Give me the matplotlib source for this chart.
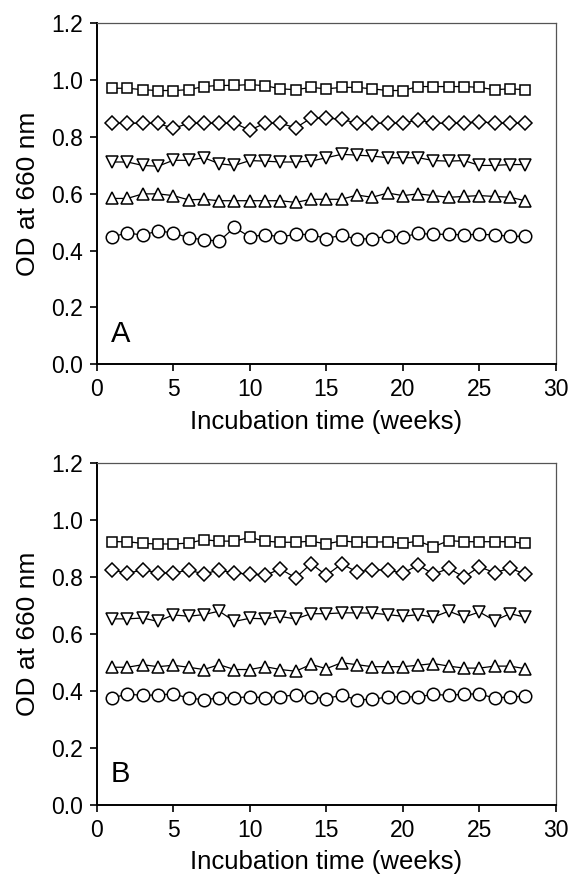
import matplotlib
matplotlib.use("Agg")
import matplotlib.pyplot as plt

plt.rcParams['font.family'] = ['Liberation Sans', 'DejaVu Sans']

weeks = list(range(1, 29))

# Panel A
a_square = [0.970, 0.970, 0.965, 0.962, 0.962, 0.965, 0.976, 0.980, 0.980, 0.983,
            0.979, 0.968, 0.965, 0.973, 0.968, 0.973, 0.973, 0.968, 0.962, 0.962,
            0.976, 0.976, 0.976, 0.976, 0.973, 0.965, 0.968, 0.965]
a_diamond = [0.847, 0.847, 0.847, 0.847, 0.829, 0.847, 0.847, 0.847, 0.847, 0.823,
             0.847, 0.847, 0.831, 0.865, 0.865, 0.861, 0.847, 0.847, 0.847, 0.847,
             0.859, 0.847, 0.847, 0.847, 0.853, 0.847, 0.847, 0.847]
a_tri_down = [0.711, 0.711, 0.699, 0.696, 0.717, 0.717, 0.726, 0.705, 0.699, 0.716,
              0.714, 0.711, 0.711, 0.714, 0.726, 0.738, 0.735, 0.732, 0.726, 0.726,
              0.726, 0.716, 0.714, 0.716, 0.699, 0.699, 0.702, 0.702]
a_tri_up = [0.583, 0.583, 0.599, 0.599, 0.593, 0.578, 0.580, 0.575, 0.575, 0.575,
            0.575, 0.575, 0.569, 0.580, 0.580, 0.580, 0.595, 0.587, 0.602, 0.593,
            0.599, 0.593, 0.587, 0.590, 0.593, 0.590, 0.587, 0.575]
a_circle = [0.448, 0.462, 0.454, 0.469, 0.462, 0.445, 0.438, 0.433, 0.481, 0.448,
            0.456, 0.448, 0.457, 0.456, 0.442, 0.454, 0.440, 0.442, 0.450, 0.448,
            0.460, 0.457, 0.457, 0.455, 0.457, 0.455, 0.450, 0.450]

# Panel B
b_square = [0.925, 0.925, 0.919, 0.917, 0.917, 0.920, 0.932, 0.927, 0.927, 0.940,
            0.927, 0.923, 0.923, 0.927, 0.917, 0.928, 0.923, 0.923, 0.925, 0.919,
            0.927, 0.907, 0.929, 0.925, 0.925, 0.925, 0.925, 0.919]
b_diamond = [0.826, 0.814, 0.826, 0.816, 0.814, 0.826, 0.811, 0.826, 0.814, 0.812,
             0.807, 0.829, 0.798, 0.848, 0.807, 0.847, 0.819, 0.826, 0.826, 0.814,
             0.843, 0.811, 0.831, 0.801, 0.837, 0.816, 0.832, 0.811]
b_tri_down = [0.654, 0.654, 0.657, 0.645, 0.668, 0.663, 0.669, 0.681, 0.645, 0.656,
              0.654, 0.662, 0.654, 0.672, 0.672, 0.675, 0.675, 0.674, 0.669, 0.663,
              0.669, 0.660, 0.681, 0.660, 0.678, 0.648, 0.672, 0.660]
b_tri_up = [0.484, 0.484, 0.493, 0.486, 0.491, 0.484, 0.476, 0.493, 0.476, 0.476,
            0.486, 0.476, 0.470, 0.494, 0.479, 0.500, 0.493, 0.486, 0.486, 0.486,
            0.491, 0.497, 0.488, 0.481, 0.481, 0.488, 0.488, 0.479]
b_circle = [0.376, 0.390, 0.385, 0.387, 0.390, 0.376, 0.370, 0.376, 0.377, 0.380,
            0.377, 0.381, 0.387, 0.379, 0.374, 0.386, 0.370, 0.371, 0.380, 0.380,
            0.380, 0.389, 0.385, 0.390, 0.390, 0.376, 0.380, 0.382]

panels = [
    ("A", [a_square, a_diamond, a_tri_down, a_tri_up, a_circle]),
    ("B", [b_square, b_diamond, b_tri_down, b_tri_up, b_circle]),
]
markers = [('s', 7.8), ('D', 7.5), ('v', 8.8), ('^', 8.8), ('o', 9)]

xticks = [0, 5, 10, 15, 20, 25, 30]
yticks = [0.0, 0.2, 0.4, 0.6, 0.8, 1.0, 1.2]

fig = plt.figure(figsize=(5.69, 8.76), dpi=100)
rects = [[0.170, 0.584, 0.807, 0.390], [0.170, 0.081, 0.807, 0.390]]

for rect, (label, series) in zip(rects, panels):
    ax = fig.add_axes(rect)
    for vals, (m, ms) in zip(series, markers):
        ax.plot(weeks, vals, color='black', lw=0.9, marker=m, ms=ms,
                mfc='white', mec='black', mew=1.1)
    ax.set_xlim(0, 30)
    ax.set_ylim(0, 1.2)
    ax.set_xticks(xticks)
    ax.set_yticks(yticks)
    ax.set_xticklabels([str(t) for t in xticks])
    ax.set_yticklabels([f"{t:.1f}" for t in yticks])
    ax.tick_params(direction='out', length=5, width=1.2, labelsize=16.5, pad=5)
    ax.spines['left'].set_linewidth(1.4)
    ax.spines['bottom'].set_linewidth(1.4)
    for s in ('top', 'right'):
        ax.spines[s].set_linewidth(0.9)
        ax.spines[s].set_color('#555555')
    ax.set_xlabel("Incubation time (weeks)", fontsize=18.5, labelpad=6)
    ax.set_ylabel("OD at 660 nm", fontsize=19, labelpad=8)
    ax.text(0.03, 0.067, label, transform=ax.transAxes, fontsize=21,
            ha='left', va='baseline')

fig.savefig("out.png", dpi=100)
